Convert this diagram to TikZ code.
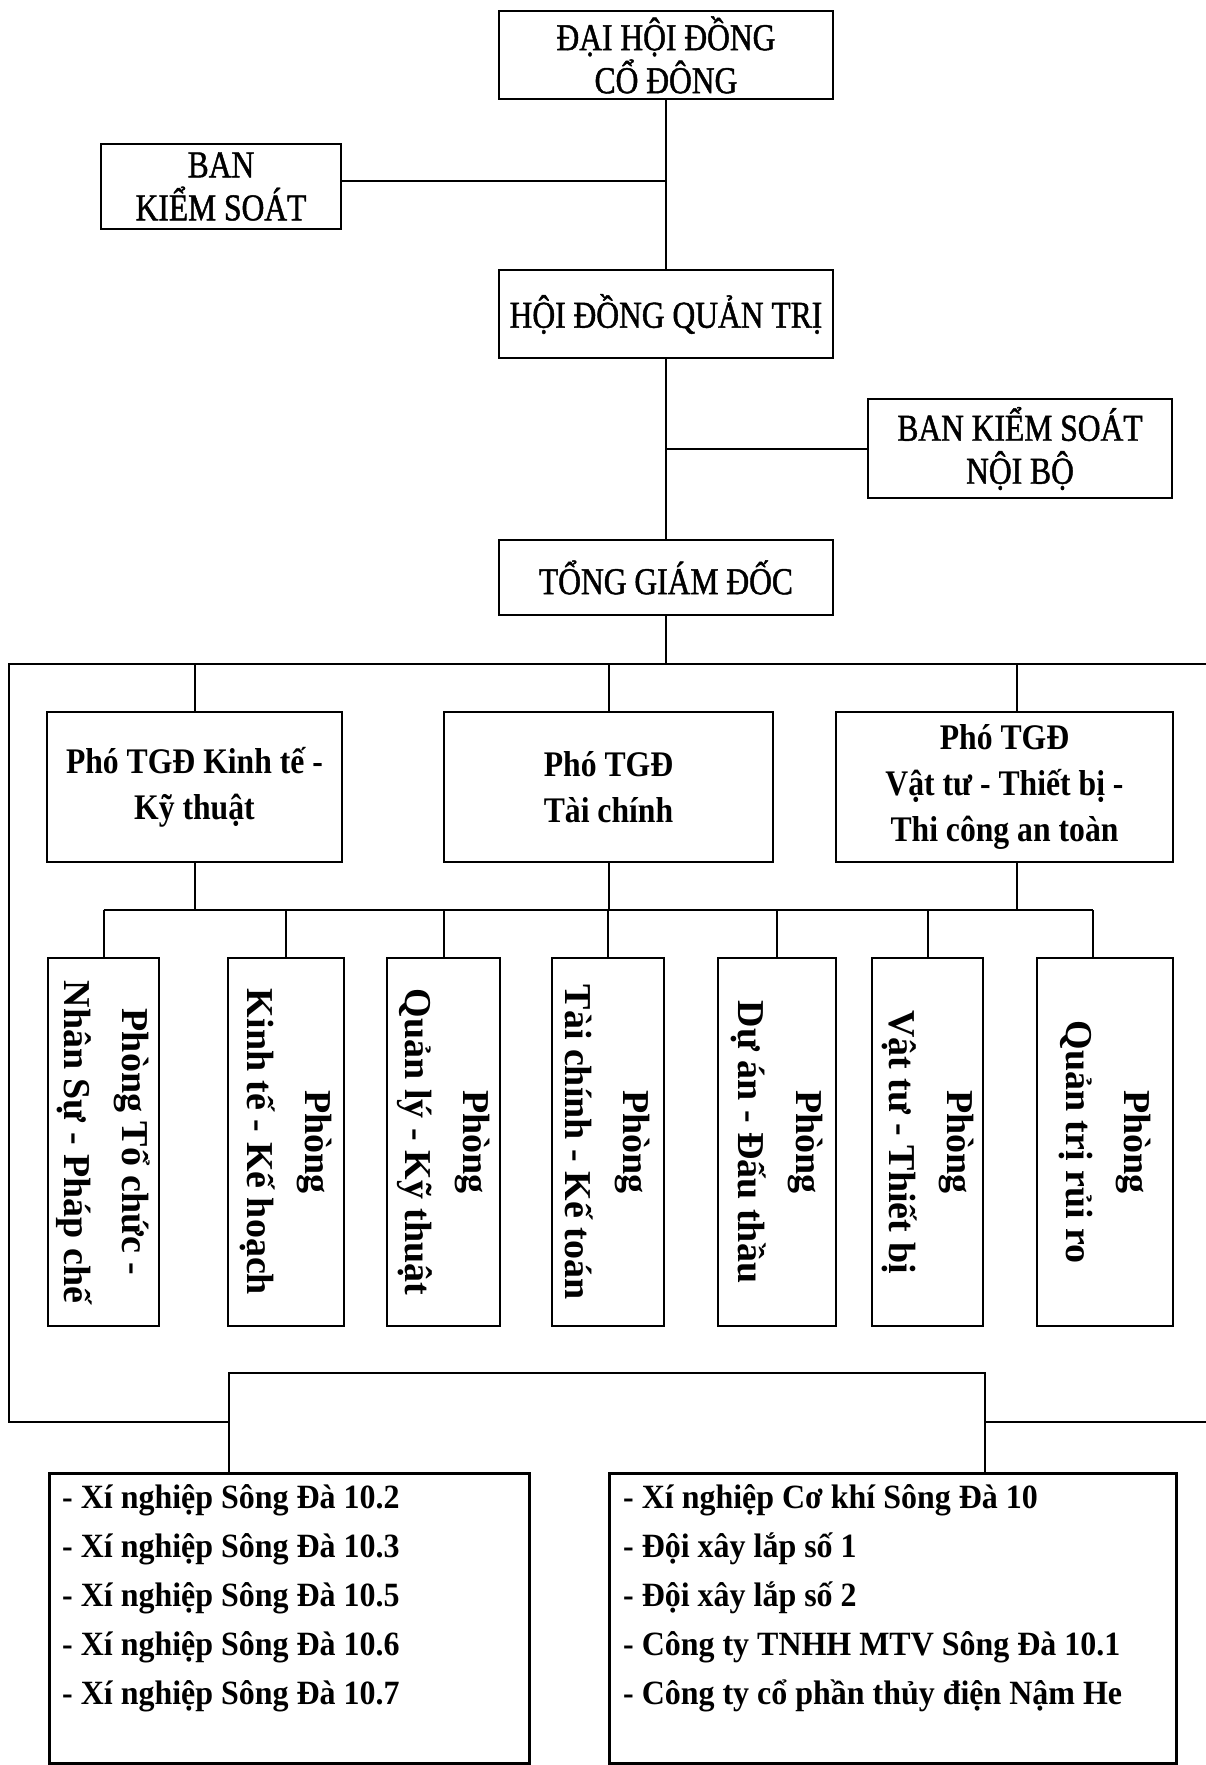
\documentclass[tikz,border=0pt]{standalone}
\usepackage{fontspec}
\setmainfont{Liberation Serif}
\newfontfamily\headfont[FakeStretch=0.83, FakeBold=1.2]{Liberation Serif}
\newfontfamily\phofont[FakeStretch=0.88]{Liberation Serif}
\newfontfamily\unitfont[FakeStretch=0.94]{Liberation Serif}
\tikzset{
  every node/.style={inner sep=0pt},
  topbox/.style={draw, line width=2.5pt, align=center, font=\headfont\fontsize{38}{43}\selectfont},
  phobox/.style={draw, line width=2.5pt, align=center, font=\phofont\fontsize{36}{46}\selectfont\bfseries},
  deptbox/.style={draw, line width=2.5pt, align=center, rotate=-90, minimum width=368,
    font=\fontsize{38}{58}\selectfont\bfseries},
  listbox/.style={draw, line width=2.5pt, anchor=north west, minimum height=290},
  listtext/.style={anchor=north west, align=left, font=\unitfont\fontsize{34}{49}\selectfont\bfseries},
  link/.style={line width=2pt},
}
\begin{document}
\begin{tikzpicture}[x=1pt, y=-1pt]
  \useasboundingbox (0,0) rectangle (1206,1765);

  % top of the chart
  \node[topbox, minimum width=334, minimum height=88] (dhdcd) at (666,55) {ĐẠI HỘI ĐỒNG\\CỔ ĐÔNG};
  \node[topbox, minimum width=240, minimum height=85] (bks) at (221,186.5) {BAN\\KIỂM SOÁT};
  \node[topbox, minimum width=334, minimum height=88] (hdqt) at (666,314) {HỘI ĐỒNG QUẢN TRỊ};
  \node[topbox, minimum width=304, minimum height=99] (bksnb) at (1020,448.5) {BAN KIỂM SOÁT\\NỘI BỘ};
  \node[topbox, minimum width=334, minimum height=75] (tgd) at (666,577.5) {TỔNG GIÁM ĐỐC};

  \draw[link] (dhdcd.south) -- (hdqt.north);
  \draw[link] ([yshift=6pt]bks.east) -- ([yshift=6pt]bks.east -| dhdcd.south);
  \draw[link] (hdqt.south) -- (tgd.north);
  \draw[link] (bksnb.west) -- (bksnb.west -| hdqt.south);

  % deputies
  \node[phobox, minimum width=295, minimum height=150] (p1) at (194.5,787) {Phó TGĐ Kinh tế -\\Kỹ thuật};
  \node[phobox, minimum width=329, minimum height=150] (p2) at (608.5,787) {Phó TGĐ\\Tài chính};
  \node[phobox, minimum width=337, minimum height=150] (p3) at (1004.5,787) {Phó TGĐ\\Vật tư - Thiết bị -\\Thi công an toàn};

  % departments
  \node[deptbox, minimum height=111] (d1) at (103.5,1142) {Phòng Tổ chức -\\Nhân Sự - Pháp chế};
  \node[deptbox, minimum height=116] (d2) at (286,1142) {Phòng\\Kinh tế - Kế hoạch};
  \node[deptbox, minimum height=113] (d3) at (443.5,1142) {Phòng\\Quản lý - Kỹ thuật};
  \node[deptbox, minimum height=112] (d4) at (608,1142) {Phòng\\Tài chính - Kế toán};
  \node[deptbox, minimum height=118] (d5) at (777,1142) {Phòng\\Dự án - Đấu thầu};
  \node[deptbox, minimum height=111] (d6) at (927.5,1142) {Phòng\\Vật tư - Thiết bị};
  \node[deptbox, minimum height=136] (d7) at (1105,1142) {Phòng\\Quản trị rủi ro};

  % units
  \node[listbox, minimum width=480] (listL) at (48,1472) {};
  \node[listbox, minimum width=567] (listR) at (608,1472) {};
  \node[listtext] (unitsL) at (62,1484) {- Xí nghiệp Sông Đà 10.2\\- Xí nghiệp Sông Đà 10.3\\- Xí nghiệp Sông Đà 10.5\\- Xí nghiệp Sông Đà 10.6\\- Xí nghiệp Sông Đà 10.7};
  \node[listtext] (unitsR) at (623,1484) {- Xí nghiệp Cơ khí Sông Đà 10\\- Đội xây lắp số 1\\- Đội xây lắp số 2\\- Công ty TNHH MTV Sông Đà 10.1\\- Công ty cổ phần thủy điện Nậm He};

  % connectors
  \coordinate (busL) at (9,664);
  \coordinate (busR) at (1206,664);
  \coordinate (deptbus) at (0,910);
  \coordinate (baseL) at (9,1422);
  \coordinate (baseR) at (1206,1422);
  \coordinate (hookL) at (229,1373);
  \coordinate (hookR) at (985,1373);
  \coordinate (p3stub) at ([xshift=12.5pt]p3.center);
  \coordinate (d7stub) at ([xshift=-12pt]d7.west);

  \draw[link] (tgd.south) -- (tgd.south |- busL);
  \draw[link] (busR) -- (busL) -- (baseL) -- (baseL -| hookL);
  \draw[link] (baseR) -- (baseR -| hookR);
  \draw[link] (listL.north -| hookL) -- (hookL) -- (hookR) -- (listR.north -| hookR);

  \foreach \p in {p1,p2} {
    \draw[link] (\p.north) -- (\p.north |- busL);
    \draw[link] (\p.south) -- (\p.south |- deptbus);
  }
  \draw[link] (p3stub |- p3.north) -- (p3stub |- busL);
  \draw[link] (p3stub |- p3.south) -- (p3stub |- deptbus);
  \draw[link] (d1.west |- deptbus) -- (d7stub |- deptbus);
  \foreach \d in {d1,d2,d3,d4,d5,d6}
    \draw[link] (\d.west) -- (\d.west |- deptbus);
  \draw[link] (d7stub) -- (d7stub |- deptbus);
\end{tikzpicture}
\end{document}
